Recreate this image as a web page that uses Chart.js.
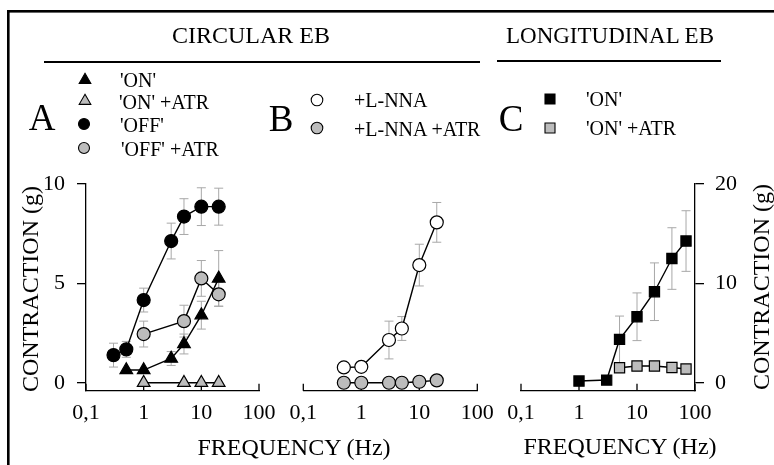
<!DOCTYPE html>
<html>
<head>
<meta charset="utf-8">
<script src="https://cdn.jsdelivr.net/npm/chart.js@4.4.1/dist/chart.umd.min.js"></script>
<style>
body { margin: 0; background: #fff; }
#fig { position: relative; width: 774px; height: 465px; overflow: hidden; font-family: "Liberation Serif", "Times New Roman", serif; color: #000; }
#fig canvas { position: absolute; left: 0; top: 0; }
.t { position: absolute; white-space: nowrap; line-height: 1; transform: translate(-50%, -50%); }
.l { position: absolute; white-space: nowrap; line-height: 1; transform: translateY(-50%); }
.v { position: absolute; white-space: nowrap; line-height: 1; transform: translate(-50%, -50%) rotate(-90deg); }
</style>
</head>
<body>
<div id="fig">
  <canvas id="chartA" width="774" height="465"></canvas>
  <canvas id="chartB" width="774" height="465"></canvas>
  <canvas id="chartC" width="774" height="465"></canvas>
  <canvas id="deco" width="774" height="465"></canvas>

  <div class="t" style="left:251px; top:35px; font-size:24px">CIRCULAR EB</div>
  <div class="t" style="left:610px; top:35px; font-size:23px">LONGITUDINAL EB</div>

  <div class="t" style="left:42px; top:117px; font-size:37px">A</div>
  <div class="l" style="left:120px; top:80px; font-size:20px">'ON'</div>
  <div class="l" style="left:119px; top:102px; font-size:20px">'ON' +ATR</div>
  <div class="l" style="left:120px; top:125px; font-size:20px">'OFF'</div>
  <div class="l" style="left:121px; top:149px; font-size:20px">'OFF' +ATR</div>

  <div class="t" style="left:281px; top:118px; font-size:37px">B</div>
  <div class="l" style="left:354px; top:100px; font-size:20px">+L-NNA</div>
  <div class="l" style="left:354px; top:129px; font-size:20px">+L-NNA +ATR</div>

  <div class="t" style="left:511px; top:118px; font-size:37px">C</div>
  <div class="l" style="left:586px; top:99px; font-size:20px">'ON'</div>
  <div class="l" style="left:586px; top:128px; font-size:20px">'ON' +ATR</div>

  <div class="v" style="left:30px; top:289px; font-size:24px">CONTRACTION (g)</div>
  <div class="v" style="left:761px; top:287px; font-size:24px">CONTRACTION (g)</div>
  <div class="t" style="left:294px; top:447px; font-size:24px">FREQUENCY (Hz)</div>
  <div class="t" style="left:620px; top:446px; font-size:24px">FREQUENCY (Hz)</div>
</div>
<script>
// circular EB, panel A
var freqOn = [0.5, 1, 3, 5, 10, 20]
var onA = [0.64, 0.64, 1.22, 1.95, 3.4, 5.25]
var onAErr = [0, 0, 0.35, 0.5, 0.7, 1.4]
var freqAtr = [1, 5, 10, 20]
var onAtrA = [0, 0, 0, 0]
var freqOff = [0.3, 0.5, 1, 3, 5, 10, 20]
var offA = [1.39, 1.68, 4.16, 7.13, 8.36, 8.86, 8.86]
var offAErr = [0.6, 0.4, 0.6, 0.9, 0.9, 0.95, 0.93]
var offAtrA = [2.45, 3.1, 5.25, 4.45]
var offAtrAErr = [0.65, 0.8, 0.9, 0.6]

// circular EB, panel B (L-NNA)
var freqB = [0.5, 1, 3, 5, 10, 20]
var lnnaB = [0.77, 0.8, 2.15, 2.73, 5.92, 8.07]
var lnnaBErr = [0, 0.2, 0.95, 0.6, 1.05, 1.0]
var lnnaAtrB = [0, 0, 0, 0, 0.05, 0.12]

// longitudinal EB, panel C
var freqC = [1, 3, 5, 10, 20, 40, 70]
var onC = [0.17, 0.27, 4.36, 6.64, 9.16, 12.5, 14.26]
var onCErr = [0, 0, 2.35, 2.4, 2.9, 3.1, 3.05]
var freqCAtr = [5, 10, 20, 40, 70]
var onAtrC = [1.51, 1.68, 1.68, 1.54, 1.38]

// axes
var freqTicks = [0.1, 1, 10, 100]
var freqLabels = ['0,1', '1', '10', '100']
var circTicks = [0, 5, 10]
var longTicks = [0, 10, 20]

var GREY = '#bcbcbc'
var FONT = { family: 'Liberation Serif', size: 22 }

function series(xs, ys, errs, style, fill, radius) {
    return {
        data: xs.map((x, i) => ({ x: x, y: ys[i] })),
        errors: errs,
        borderColor: '#000',
        borderWidth: 1.4,
        pointStyle: style,
        pointRadius: radius,
        pointBackgroundColor: fill,
        pointBorderColor: '#000',
        pointBorderWidth: 1.2,
        tension: 0,
        clip: false
    }
}

// grey SEM bars, under the lines and markers
const errorBars = {
    id: 'errorBars',
    beforeDatasetsDraw(chart) {
        const ctx = chart.ctx
        const ys = chart.scales.y
        ctx.save()
        ctx.strokeStyle = '#a8a8a8'
        ctx.lineWidth = 1
        chart.data.datasets.forEach((ds, i) => {
            if (!ds.errors) return
            chart.getDatasetMeta(i).data.forEach((pt, j) => {
                const e = ds.errors[j]
                if (!e) return
                const v = ds.data[j].y
                const top = ys.getPixelForValue(v + e)
                const bot = ys.getPixelForValue(v - e)
                ctx.beginPath()
                ctx.moveTo(pt.x, top); ctx.lineTo(pt.x, bot)
                ctx.moveTo(pt.x - 4.5, top); ctx.lineTo(pt.x + 4.5, top)
                ctx.moveTo(pt.x - 4.5, bot); ctx.lineTo(pt.x + 4.5, bot)
                ctx.stroke()
            })
        })
        ctx.restore()
    }
}

// frequency ticks point up into the plot
const innerTicks = {
    id: 'innerTicks',
    beforeDatasetsDraw(chart) {
        const xs = chart.scales.x
        const b = chart.chartArea.bottom
        const ctx = chart.ctx
        ctx.save()
        ctx.strokeStyle = '#000'
        ctx.lineWidth = 1.3
        freqTicks.forEach(v => {
            const px = xs.getPixelForValue(v)
            ctx.beginPath()
            ctx.moveTo(px, b)
            ctx.lineTo(px, b - 7)
            ctx.stroke()
        })
        ctx.restore()
    }
}

function panel(id, datasets, o) {
    return new Chart(document.getElementById(id), {
        type: 'line',
        data: { datasets: datasets },
        options: {
            responsive: false,
            animation: false,
            devicePixelRatio: 1,
            events: [],
            layout: { padding: o.padding },
            plugins: { legend: { display: false }, tooltip: { enabled: false } },
            scales: {
                x: {
                    type: 'logarithmic',
                    min: 0.1,
                    max: 100,
                    afterBuildTicks: s => { s.ticks = freqTicks.map(v => ({ value: v })) },
                    afterFit: s => { s.height = 50 },
                    grid: { display: false, drawTicks: false },
                    border: { display: true, color: '#000', width: 1.3 },
                    ticks: {
                        autoSkip: false,
                        maxRotation: 0,
                        padding: 9,
                        color: '#000',
                        font: FONT,
                        callback: (v, i) => freqLabels[i]
                    }
                },
                y: {
                    display: o.yShow,
                    position: o.yPos,
                    min: o.yMin,
                    max: o.yMax,
                    afterBuildTicks: s => { s.ticks = o.yTicks.map(v => ({ value: v })) },
                    afterFit: s => { s.width = o.yWidth },
                    grid: { drawOnChartArea: false, drawTicks: true, tickLength: 9, color: '#000', lineWidth: 1.3 },
                    border: { display: true, color: '#000', width: 1.3 },
                    ticks: { padding: o.yPad, color: '#000', font: FONT, callback: v => String(v) }
                }
            }
        },
        plugins: [errorBars, innerTicks]
    })
}

panel('chartA', [
    series(freqAtr, onAtrA, null, 'triangle', GREY, 7.3),
    series(freqOn, onA, onAErr, 'triangle', '#000', 7.3),
    series(freqAtr, offAtrA, offAtrAErr, 'circle', GREY, 6.5),
    series(freqOff, offA, offAErr, 'circle', '#000', 6.5)
], { padding: { left: 0, top: 184, right: 515, bottom: 24.3 }, yShow: true, yPos: 'left',
     yMin: -0.4, yMax: 10, yTicks: circTicks, yWidth: 86, yPad: 12 })

panel('chartB', [
    series(freqB, lnnaAtrB, null, 'circle', GREY, 6.5),
    series(freqB, lnnaB, lnnaBErr, 'circle', '#fff', 6.5)
], { padding: { left: 303.3, top: 184, right: 296.7, bottom: 24.3 }, yShow: false, yPos: 'left',
     yMin: -0.4, yMax: 10, yTicks: circTicks, yWidth: 0, yPad: 12 })

panel('chartC', [
    series(freqCAtr, onAtrC, null, 'rect', GREY, 7.2),
    series(freqC, onC, onCErr, 'rect', '#000', 7.2)
], { padding: { left: 521, top: 184, right: 20, bottom: 24.3 }, yShow: true, yPos: 'right',
     yMin: -0.8, yMax: 20, yTicks: longTicks, yWidth: 59, yPad: 11 })

// frame, header rules and legend keys
var d = document.getElementById('deco').getContext('2d')
d.fillStyle = '#000'
d.fillRect(7, 10, 2.6, 455)
d.fillRect(7, 10, 767, 2.6)
d.fillRect(44, 61, 436, 2)
d.fillRect(497, 60, 224, 2)

function key(shape, x, y, fill, r) {
    d.save()
    d.fillStyle = fill
    d.strokeStyle = '#000'
    d.lineWidth = 1.1
    d.beginPath()
    if (shape === 'tri') {
        d.moveTo(x, y - r)
        d.lineTo(x + r * 0.866, y + r * 0.5)
        d.lineTo(x - r * 0.866, y + r * 0.5)
        d.closePath()
    } else if (shape === 'sq') {
        d.rect(x - r, y - r, 2 * r, 2 * r)
    } else {
        d.arc(x, y, r, 0, Math.PI * 2)
    }
    d.fill()
    d.stroke()
    d.restore()
}
key('tri', 85, 80, '#000', 6.7)
key('tri', 85, 101, GREY, 6.7)
key('circ', 84, 124, '#000', 5.5)
key('circ', 84, 148, GREY, 5.5)
key('circ', 317, 100, '#fff', 5.8)
key('circ', 317, 128, GREY, 5.8)
key('sq', 550, 99, '#000', 5)
key('sq', 550, 128, GREY, 5)
</script>
</body>
</html>
